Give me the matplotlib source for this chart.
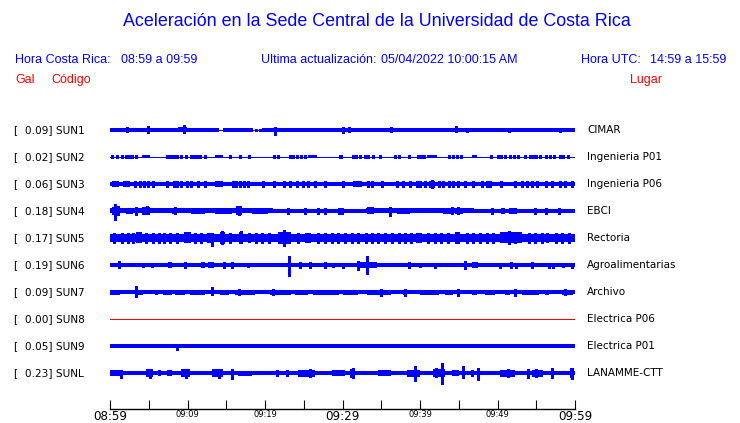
import matplotlib
matplotlib.use("Agg")
import matplotlib.pyplot as plt

BLUE = "#0000ff"
RED = "#ff0000"
W, H = 740.0, 423.0
row_px = 27.0  # vertical spacing between traces, in pixels

title = "Aceleración en la Sede Central de la Universidad de Costa Rica"
hora_cr = "08:59 a 09:59"
hora_utc = "14:59 a 15:59"
actualizacion = "05/04/2022 10:00:15 AM"

codes = ["SUN1", "SUN2", "SUN3", "SUN4", "SUN5", "SUN6", "SUN7", "SUN8", "SUN9", "SUNL"]
peaks = [0.09, 0.02, 0.06, 0.18, 0.17, 0.19, 0.09, 0.00, 0.05, 0.23]
places = ["CIMAR", "Ingenieria P01", "Ingenieria P06", "EBCI", "Rectoria",
          "Agroalimentarias", "Archivo", "Electrica P06", "Electrica P01", "LANAMME-CTT"]

tick_min = list(range(0, 61, 5))
tick_labels = ["08:59", "", "09:09", "", "09:19", "", "09:29", "", "09:39", "", "09:49", "", "09:59"]
big_ticks = ["08:59", "09:29", "09:59"]

# traces: minutes after 08:59, half amplitudes in pixels
# band / burst = (t0, t1, half amplitude), spike = (t, up, down)
sun1_band = [(0, 14, 1.8), (14.6, 18.5, 1.8), (19.6, 60, 1.8)]
sun1_burst = [(8.8, 9.9, 2.5)]
sun1_spike = [(2.2, 2.5, 2.5), (4.9, 4.0, 3.3), (9.5, 4.7, 3.3), (18.9, 1.2, 1.2), (19.3, 1.2, 1.2),
              (21.3, 3.3, 5.3), (30.0, 2.5, 2.8), (30.8, 2.5, 2.5), (36.3, 2.5, 2.3),
              (44.7, 3.7, 2.3), (46.0, 2.3, 2.3), (51.5, 2.3, 2.3), (58.0, 2.2, 2.2)]

sun2_band = []
sun2_burst = [(4.1, 5.2, 1.5), (13.5, 14.6, 1.5), (25.6, 26.7, 1.5), (29.5, 30.1, 1.7),
              (40.9, 42.2, 1.5), (46.7, 47.3, 1.5)]
sun2_blip_t = [0.3, 0.9, 1.5, 2.0, 2.4, 2.9, 3.4, 7.3, 7.6, 8.0, 8.3, 8.7, 9.2, 9.8, 10.4, 10.8,
               11.2, 11.6, 12.3, 15.5, 16.8, 17.9, 21.1, 21.7, 23.2, 23.6, 24.1, 24.6, 25.1,
               31.3, 31.8, 32.3, 32.9, 33.3, 33.9, 34.9, 36.8, 37.3, 38.6, 39.7, 40.1, 40.5,
               43.8, 44.3, 44.8, 45.3, 49.2, 50.0, 50.5, 51.0, 51.6, 52.1, 52.6, 53.5, 54.2,
               54.6, 55.0, 55.5, 56.3, 56.8, 57.3, 58.0, 58.5, 59.1]
sun2_spike = [(t, 1.5, 1.5) for t in sun2_blip_t]

sun3_band = [(0, 60, 2.2)]
sun3_burst = [(0.2, 1.1, 3.0), (1.7, 2.6, 3.0), (13.5, 14.6, 3.0), (31.4, 32.5, 3.0)]
sun3_blip_t = [3.2, 3.9, 4.4, 4.9, 5.6, 7.3, 8.2, 8.6, 9.2, 9.9, 10.5, 11.4, 12.3, 15.9, 16.3,
               16.8, 17.3, 17.8, 19.8, 21.1, 22.4, 23.2, 24.1, 24.9, 25.6, 26.5, 27.7, 30.1,
               33.3, 33.8, 35.1, 37.0, 37.8, 38.7, 39.6, 40.0, 40.6, 41.3, 41.7, 42.4, 43.0,
               43.7, 44.3, 44.9, 45.8, 46.9, 48.0, 48.6, 49.0, 50.5, 52.3, 53.1, 53.8, 54.4,
               55.1, 56.3, 57.0, 58.1, 58.7, 59.6]
sun3_spike = [(t, 3.0, 3.0) for t in sun3_blip_t] + [(41.5, 3.7, 3.7)]

sun4_band = [(0, 21, 2.5), (21, 33, 2.0), (33, 47, 2.5), (47, 60, 2.0)]
sun4_burst = [(0.2, 1.3, 4.0), (2.0, 3.0, 3.2), (4.1, 5.2, 3.8), (8.0, 8.6, 3.2), (10.5, 12.3, 3.2),
              (13.5, 15.7, 3.2), (16.3, 17.0, 4.5), (18.3, 20.4, 3.2), (33.2, 34.0, 3.5),
              (37.0, 38.7, 3.2), (43.0, 44.0, 3.2), (44.5, 45.5, 3.2), (50.5, 51.0, 2.7),
              (51.5, 52.5, 2.7)]
sun4_spike = [(0.6, 7.3, 9.3), (1.0, 4.5, 4.5), (3.4, 4.0, 4.0), (4.8, 4.5, 3.5), (8.4, 3.5, 3.0),
              (16.7, 4.5, 4.5), (23.0, 2.7, 2.7), (25.2, 2.7, 2.7), (26.9, 2.7, 2.7),
              (27.7, 2.7, 2.7), (29.5, 2.7, 3.0), (29.9, 2.7, 2.7), (36.1, 3.5, 5.0),
              (44.1, 3.5, 3.5), (44.9, 3.5, 3.5), (49.3, 2.7, 2.7), (54.8, 2.7, 2.7),
              (56.3, 2.7, 2.7), (57.9, 2.7, 2.7)]

sun5_band = [(0, 60, 4.3)]
sun5_burst = [(3.4, 4.1, 5.5), (9.5, 10.5, 5.5), (12.5, 13.2, 5.2), (14.2, 14.8, 6.3),
              (16.6, 17.0, 6.0), (17.8, 18.2, 5.0), (21.7, 23.4, 6.0), (25.1, 26.0, 5.0),
              (39.5, 40.2, 5.0), (44.5, 45.2, 5.8), (50.3, 53.1, 5.5), (56.3, 56.6, 5.0)]
sun5_jag_t = [0.5, 1.5, 2.3, 3.0, 4.6, 5.5, 6.3, 7.0, 7.8, 8.6, 11.0, 11.8, 15.5, 18.8, 19.6,
              20.5, 24.2, 26.8, 27.7, 28.6, 29.4, 30.3, 31.2, 32.0, 33.0, 33.8, 34.6, 35.5,
              36.4, 37.3, 38.1, 38.9, 41.0, 41.9, 42.7, 43.6, 46.0, 46.9, 47.8, 48.6, 49.4,
              54.0, 54.9, 55.7, 57.5, 58.3, 59.2]
sun5_spike = [(t, 5.3, 5.3) for t in sun5_jag_t] + [
    (13.1, 4.5, 8.3), (14.5, 7.0, 6.0), (16.9, 7.0, 5.5), (22.5, 8.2, 8.0), (44.8, 6.3, 5.0),
    (51.5, 6.5, 6.5), (52.2, 6.3, 5.5)]

sun6_band = [(0, 60, 1.7)]
sun6_burst = [(0.2, 1.3, 2.3), (7.5, 8.0, 2.7), (11.8, 12.2, 2.7), (12.6, 13.4, 2.7),
              (20.0, 20.5, 2.3), (32.1, 34.5, 3.0), (41.5, 44.5, 2.4), (46.7, 47.5, 3.0)]
sun6_spike = [(1.1, 4.3, 3.3), (4.3, 2.2, 2.2), (5.4, 2.2, 2.2), (9.7, 3.3, 3.3), (14.7, 3.0, 3.0),
              (15.8, 3.3, 3.3), (17.8, 2.3, 2.3), (23.1, 9.3, 10.7), (24.5, 2.7, 2.7),
              (25.8, 2.7, 2.7), (27.8, 2.7, 2.7), (28.8, 2.3, 2.3), (30.1, 2.5, 2.5),
              (32.0, 4.0, 5.0), (33.2, 9.3, 9.3), (38.6, 3.0, 3.0), (40.0, 2.3, 2.3),
              (41.9, 2.5, 2.5), (45.8, 3.5, 3.5), (50.3, 2.5, 2.5), (51.7, 2.7, 2.7),
              (52.4, 2.5, 2.5), (54.4, 2.7, 2.7), (56.7, 2.5, 2.5), (57.2, 2.5, 2.5),
              (58.5, 2.3, 2.3), (59.6, 2.5, 2.5)]

sun7_band = [(0, 60, 1.8)]
sun7_burst = [(0, 1.3, 2.5), (3.2, 4.3, 2.5), (5.8, 6.2, 2.5), (6.9, 8.0, 2.5), (8.4, 9.7, 2.5),
              (10.3, 12.3, 2.5), (14.2, 15.3, 2.5), (16.1, 18.7, 2.5), (20.6, 23.4, 2.5),
              (23.9, 25.6, 2.5), (26.2, 29.5, 2.5), (30.1, 32.0, 2.5), (33.1, 36.3, 2.5),
              (37.8, 38.3, 2.5), (40.0, 42.4, 2.5), (43.2, 44.3, 2.5), (46.7, 47.3, 2.5),
              (48.4, 49.7, 2.5), (51.0, 51.6, 2.5), (53.1, 55.3, 2.5), (56.1, 56.6, 2.5),
              (58.3, 59.8, 2.5)]
sun7_spike = [(3.4, 5.7, 4.7), (13.1, 4.7, 3.0), (16.6, 3.0, 3.0), (21.0, 3.0, 3.0),
              (35.0, 3.5, 3.5), (38.0, 3.5, 3.5), (44.9, 3.5, 3.5), (52.3, 3.5, 3.5),
              (58.7, 3.0, 3.0)]

sun8_band = []
sun8_burst = []
sun8_spike = []

sun9_band = [(0, 60, 1.7)]
sun9_burst = []
sun9_spike = [(8.6, 2.5, 3.7)]

sunl_band = [(0, 60, 1.8)]
sunl_burst = [(0, 1.7, 3.0), (4.7, 5.6, 4.0), (6.2, 6.6, 3.0), (7.3, 8.0, 3.0), (9.2, 10.3, 4.2),
              (13.1, 14.6, 3.8), (16.5, 18.3, 2.5), (24.3, 26.5, 3.5), (28.6, 30.3, 3.0),
              (31.0, 31.6, 4.5), (34.6, 36.3, 2.7), (38.3, 40.0, 3.5), (41.7, 43.2, 3.8),
              (44.1, 45.0, 3.0), (50.3, 52.3, 3.5), (54.4, 55.9, 3.5), (59.4, 59.8, 5.0)]
sunl_spike = [(1.4, 3.3, 5.0), (5.2, 4.5, 4.5), (9.8, 4.5, 4.5), (14.0, 4.5, 4.5), (15.8, 4.0, 6.0),
              (21.5, 2.7, 2.7), (22.8, 2.7, 2.7), (25.8, 4.0, 3.5), (31.3, 5.0, 5.0),
              (39.4, 7.3, 8.3), (42.0, 4.7, 4.0), (42.8, 9.7, 11.0), (45.6, 6.7, 5.0),
              (46.7, 3.0, 3.0), (47.5, 5.3, 7.3), (51.4, 4.2, 4.2), (53.9, 4.3, 5.0),
              (55.0, 4.0, 4.0), (57.0, 5.0, 5.0), (59.6, 5.5, 5.5)]

bands = [sun1_band, sun2_band, sun3_band, sun4_band, sun5_band,
         sun6_band, sun7_band, sun8_band, sun9_band, sunl_band]
bursts = [sun1_burst, sun2_burst, sun3_burst, sun4_burst, sun5_burst,
          sun6_burst, sun7_burst, sun8_burst, sun9_burst, sunl_burst]
spikes = [sun1_spike, sun2_spike, sun3_spike, sun4_spike, sun5_spike,
          sun6_spike, sun7_spike, sun8_spike, sun9_spike, sunl_spike]

fig = plt.figure(figsize=(7.4, 4.23), dpi=100)
ax = fig.add_axes([110 / W, 1 - 409 / H, 465 / W, (409 - 116.5) / H])
ax.set_xlim(0, 60)
ax.set_ylim(-(409 - 130) / row_px, 0.5)

for i in range(len(codes)):
    y0 = -i
    color = RED if peaks[i] == 0 else BLUE
    ax.plot([0, 60], [y0, y0], color=color, lw=0.72, solid_capstyle="butt", antialiased=False)
    for t0, t1, a in bands[i] + bursts[i]:
        ax.bar(t0, 2 * a / row_px, width=t1 - t0, bottom=y0 - a / row_px,
               align="edge", color=color, lw=0, antialiased=False)
    for t, up, dn in spikes[i]:
        ax.vlines(t, y0 - dn / row_px, y0 + up / row_px, color=color, lw=0.9,
                  antialiased=False)

    ypx = 1 - (130 + row_px * i) / H
    fig.text(14 / W, ypx, "[  {:.2f}] {}".format(peaks[i], codes[i]),
             fontsize=7.6, family="DejaVu Sans", va="center", ha="left")
    fig.text(587 / W, ypx, places[i], fontsize=7.5, family="DejaVu Sans",
             va="center", ha="left")

for s in ["top", "left", "right"]:
    ax.spines[s].set_visible(False)
ax.spines["bottom"].set_linewidth(1.0)
ax.set_yticks([])
ax.set_xticks(tick_min)
ax.set_xticklabels(tick_labels)
ax.tick_params(axis="x", direction="in", length=6.5, width=0.8, pad=0.5)
for lab in ax.get_xticklabels():
    lab.set_fontsize(8.6 if lab.get_text() in big_ticks else 6)

head = dict(family="Liberation Sans", va="center")
fig.text(377 / W, 1 - 22 / H, title, fontsize=12.9, color=BLUE, ha="center", **head)
fig.text(15 / W, 1 - 60 / H, "Hora Costa Rica:", fontsize=9, color=BLUE, ha="left", **head)
fig.text(121 / W, 1 - 60 / H, hora_cr, fontsize=9, color=BLUE, ha="left", **head)
fig.text(261 / W, 1 - 60 / H, "Ultima actualización:", fontsize=9, color=BLUE, ha="left", **head)
fig.text(381 / W, 1 - 60 / H, actualizacion, fontsize=9, color=BLUE, ha="left", **head)
fig.text(581 / W, 1 - 60 / H, "Hora UTC:", fontsize=9, color=BLUE, ha="left", **head)
fig.text(726 / W, 1 - 60 / H, hora_utc, fontsize=9, color=BLUE, ha="right", **head)
fig.text(15 / W, 1 - 80 / H, "Gal", fontsize=9, color=RED, ha="left", **head)
fig.text(51 / W, 1 - 80 / H, "Código", fontsize=9, color=RED, ha="left", **head)
fig.text(630 / W, 1 - 80 / H, "Lugar", fontsize=9, color=RED, ha="left", **head)

fig.savefig("out.png", dpi=100)
